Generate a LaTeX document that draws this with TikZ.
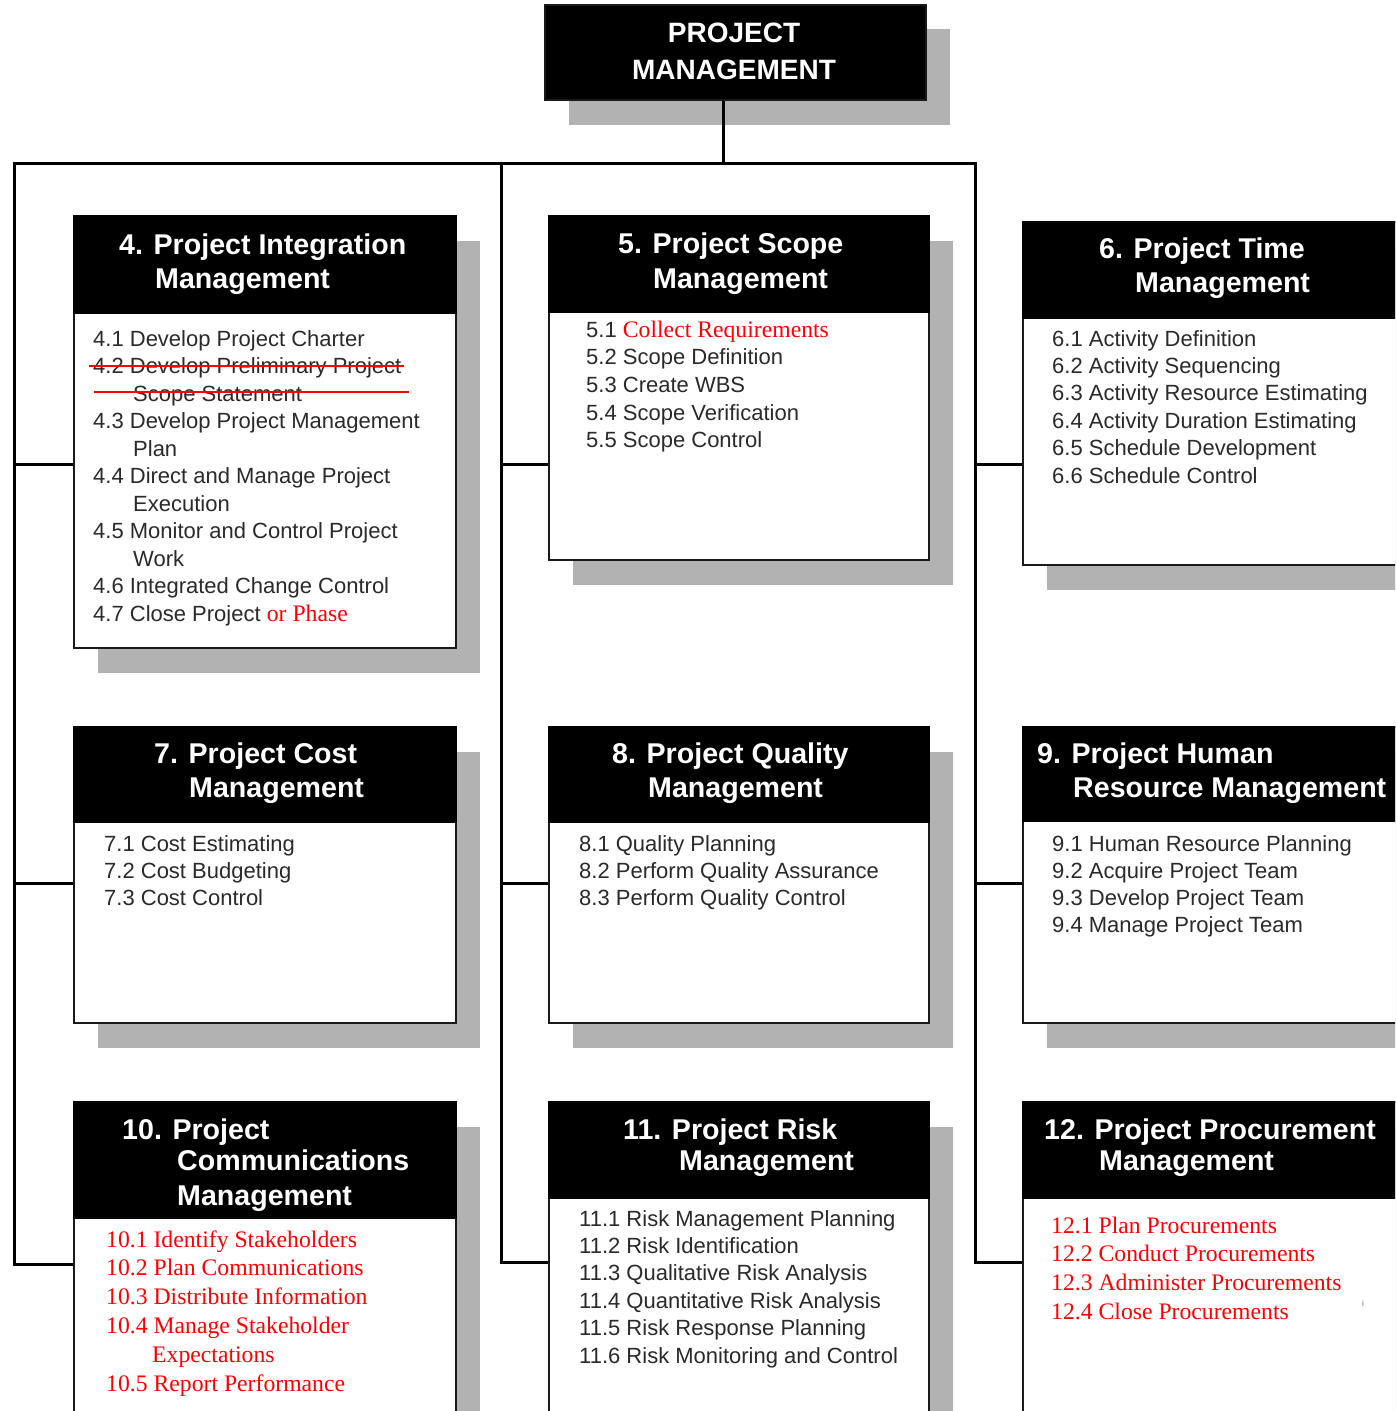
\documentclass[tikz,border=0pt]{standalone}
\usepackage{fontspec}
\setmainfont{Liberation Sans}
\newfontfamily\redserif{Liberation Serif}
\usetikzlibrary{shadows}
\definecolor{shadowgray}{RGB}{178,178,178}
\definecolor{itemgray}{RGB}{42,42,42}
\definecolor{addred}{RGB}{255,0,0}
% text added in the newer edition is set in red serif
\newcommand\addtxt[1]{{\redserif\fontsize{23.7}{28}\selectfont\color{addred}#1}}

\begin{document}
\begin{tikzpicture}[x=1pt,y=-1pt,
  conn/.style={line width=3pt, black, line join=miter},
  panel/.style={draw=black!90, line width=2pt, fill=white, inner sep=0pt,
    anchor=north west,
    general shadow={fill=shadowgray, shadow xshift=24pt, shadow yshift=-25pt}},
  headbar/.style={fill=black, draw=black, line width=2pt, inner sep=0pt, anchor=north west},
  htext/.style={anchor=base west, inner sep=0pt, text=white,
    font=\bfseries\fontsize{28.6}{34}\selectfont},
  ttext/.style={anchor=base, inner sep=0pt, text=white,
    font=\bfseries\fontsize{28}{34}\selectfont},
  itm/.style={anchor=base west, inner sep=0pt, text=itemgray,
    font=\fontsize{22}{27}\selectfont},
  reditm/.style={anchor=base west, inner sep=0pt, text=addred,
    font=\redserif\fontsize{23.7}{28}\selectfont},
  strike/.style={addred, line width=2pt}
]
\useasboundingbox (0,0) rectangle (1395,1411);
\clip (0,0) rectangle (1395,1411);

% ---------- root ----------
\node[panel, fill=black, minimum width=381, minimum height=95,
  general shadow={fill=shadowgray, shadow xshift=24pt, shadow yshift=-24pt}] (top) at (544,4) {};
\node[ttext] (topA) at (734,42) {PROJECT};
\node[ttext] (topB) at (734,79) {MANAGEMENT};

% ---------- row 1 ----------
\node[panel, minimum width=382, minimum height=432] (b4) at (73,215) {};
\node[headbar, minimum width=382, minimum height=97] (h4) at (73,215) {};
\node[panel, minimum width=380, minimum height=344] (b5) at (548,215) {};
\node[headbar, minimum width=380, minimum height=96] (h5) at (548,215) {};
\node[panel, minimum width=420, minimum height=343] (b6) at (1022,221) {};
\node[headbar, minimum width=420, minimum height=96] (h6) at (1022,221) {};

% ---------- row 2 ----------
\node[panel, minimum width=382, minimum height=296] (b7) at (73,726) {};
\node[headbar, minimum width=382, minimum height=95] (h7) at (73,726) {};
\node[panel, minimum width=380, minimum height=296] (b8) at (548,726) {};
\node[headbar, minimum width=380, minimum height=95] (h8) at (548,726) {};
\node[panel, minimum width=420, minimum height=296] (b9) at (1022,726) {};
\node[headbar, minimum width=420, minimum height=94] (h9) at (1022,726) {};

% ---------- row 3 ----------
\node[panel, minimum width=382, minimum height=340] (b10) at (73,1101) {};
\node[headbar, minimum width=382, minimum height=116] (h10) at (73,1101) {};
\node[panel, minimum width=380, minimum height=340] (b11) at (548,1101) {};
\node[headbar, minimum width=380, minimum height=96] (h11) at (548,1101) {};
\node[panel, minimum width=420, minimum height=340] (b12) at (1022,1101) {};
\node[headbar, minimum width=420, minimum height=96] (h12) at (1022,1101) {};

% ---------- headings ----------
\node[htext] (h4a) at (119,254) {4. Project Integration};
\node[htext] (h4b) at (155,288) {Management};
\node[htext] (h5a) at (618,253) {5. Project Scope};
\node[htext] (h5b) at (653,288) {Management};
\node[htext] (h6a) at (1099,258) {6. Project Time};
\node[htext] (h6b) at (1135,292) {Management};
\node[htext] (h7a) at (154,763) {7. Project Cost};
\node[htext] (h7b) at (189,797) {Management};
\node[htext] (h8a) at (612,763) {8. Project Quality};
\node[htext] (h8b) at (648,797) {Management};
\node[htext] (h9a) at (1037,763) {9. Project Human};
\node[htext] (h9b) at (1073,797) {Resource Management};
\node[htext] (h10a) at (122,1139) {10. Project};
\node[htext] (h10b) at (177,1170) {Communications};
\node[htext] (h10c) at (177,1205) {Management};
\node[htext] (h11a) at (623,1139) {11. Project Risk};
\node[htext] (h11b) at (679,1170) {Management};
\node[htext] (h12a) at (1044,1139) {12. Project Procurement};
\node[htext] (h12b) at (1099,1170) {Management};

% ---------- process lists ----------
\foreach \t [count=\i from 0] in {
  {4.1 Develop Project Charter},
  {4.2 Develop Preliminary Project},
  {\hspace{40pt}Scope Statement},
  {4.3 Develop Project Management},
  {\hspace{40pt}Plan},
  {4.4 Direct and Manage Project},
  {\hspace{40pt}Execution},
  {4.5 Monitor and Control Project},
  {\hspace{40pt}Work},
  {4.6 Integrated Change Control},
  {4.7 Close Project \addtxt{or Phase}}}
  \node[itm] (t4-\i) at (93,{346+27.5*\i}) {\t};

\foreach \t [count=\i from 0] in {
  {5.1 \addtxt{Collect Requirements}},
  {5.2 Scope Definition},
  {5.3 Create WBS},
  {5.4 Scope Verification},
  {5.5 Scope Control}}
  \node[itm] (t5-\i) at (586,{337+27.7*\i}) {\t};

\foreach \t [count=\i from 0] in {
  {6.1 Activity Definition},
  {6.2 Activity Sequencing},
  {6.3 Activity Resource Estimating},
  {6.4 Activity Duration Estimating},
  {6.5 Schedule Development},
  {6.6 Schedule Control}}
  \node[itm] (t6-\i) at (1052,{346+27.4*\i}) {\t};

\foreach \t [count=\i from 0] in {
  {7.1 Cost Estimating},
  {7.2 Cost Budgeting},
  {7.3 Cost Control}}
  \node[itm] (t7-\i) at (104,{851+27*\i}) {\t};

\foreach \t [count=\i from 0] in {
  {8.1 Quality Planning},
  {8.2 Perform Quality Assurance},
  {8.3 Perform Quality Control}}
  \node[itm] (t8-\i) at (579,{851+27*\i}) {\t};

\foreach \t [count=\i from 0] in {
  {9.1 Human Resource Planning},
  {9.2 Acquire Project Team},
  {9.3 Develop Project Team},
  {9.4 Manage Project Team}}
  \node[itm] (t9-\i) at (1052,{851+27*\i}) {\t};

\foreach \t [count=\i from 0] in {
  {10.1 Identify Stakeholders},
  {10.2 Plan Communications},
  {10.3 Distribute Information},
  {10.4 Manage Stakeholder},
  {\hspace{46pt}Expectations},
  {10.5 Report Performance}}
  \node[reditm] (t10-\i) at (106,{1247+28.8*\i}) {\t};

\foreach \t [count=\i from 0] in {
  {11.1 Risk Management Planning},
  {11.2 Risk Identification},
  {11.3 Qualitative Risk Analysis},
  {11.4 Quantitative Risk Analysis},
  {11.5 Risk Response Planning},
  {11.6 Risk Monitoring and Control}}
  \node[itm] (t11-\i) at (579,{1226+27.4*\i}) {\t};

\foreach \t [count=\i from 0] in {
  {12.1 Plan Procurements},
  {12.2 Conduct Procurements},
  {12.3 Administer Procurements},
  {12.4 Close Procurements}}
  \node[reditm] (t12-\i) at (1051,{1233+28.7*\i}) {\t};

\node[inner sep=0pt, anchor=base, text=black!60, font=\fontsize{8}{8}\selectfont] (stray) at (1363,1306) {i};

% removed process 4.2 is struck through
\draw[strike] (89,366) -- (404,366);
\draw[strike] (94,392) -- (409,392);

% ---------- connectors ----------
\coordinate (busL) at (14,163);
\coordinate (busM) at (501,163);
\coordinate (busR) at (975,163);
\coordinate (drop) at (723,163);
\coordinate (endL) at (14,1264);
\coordinate (endM) at (501,1262);
\coordinate (endR) at (975,1262);
\coordinate (jL1) at (14,464);
\coordinate (jM1) at (501,464);
\coordinate (jR1) at (975,464);
\coordinate (jL2) at (14,883);
\coordinate (jM2) at (501,883);
\coordinate (jR2) at (975,883);

\draw[conn] (top.south -| drop) -- (drop);
\draw[conn] (endL -| b10.west) -- (endL) -- (busL) -- (busR) -- (endR) -- (endR -| b12.west);
\draw[conn] (busM) -- (endM) -- (endM -| b11.west);
\draw[conn] (jL1) -- (jL1 -| b4.west);
\draw[conn] (jM1) -- (jM1 -| b5.west);
\draw[conn] (jR1) -- (jR1 -| b6.west);
\draw[conn] (jL2) -- (jL2 -| b7.west);
\draw[conn] (jM2) -- (jM2 -| b8.west);
\draw[conn] (jR2) -- (jR2 -| b9.west);
\end{tikzpicture}
\end{document}
